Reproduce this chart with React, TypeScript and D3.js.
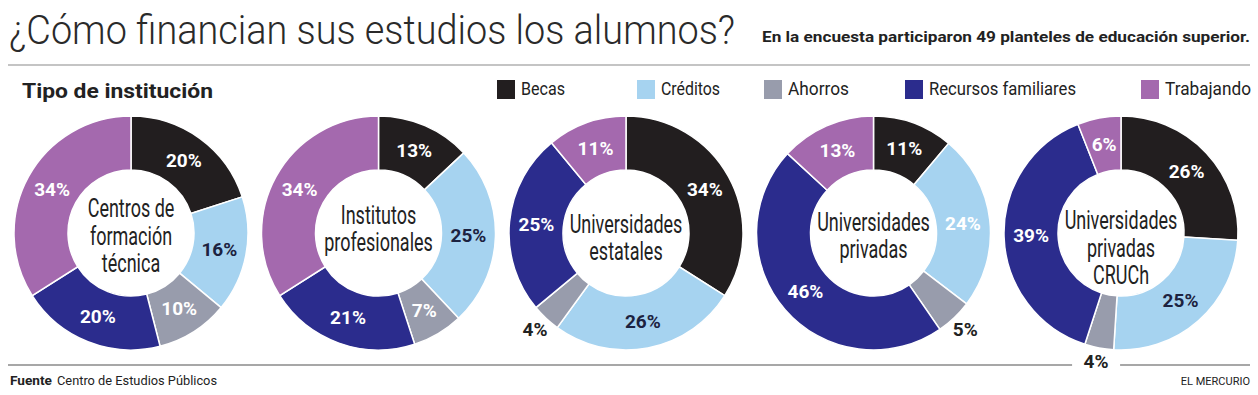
import React from "react";
import * as d3 from "d3";

// ---- data ----
const series = ["Becas", "Créditos", "Ahorros", "Recursos familiares", "Trabajando"];
const institutions = [
  ["Centros de", "formación", "técnica"],
  ["Institutos", "profesionales"],
  ["Universidades", "estatales"],
  ["Universidades", "privadas"],
  ["Universidades", "privadas", "CRUCh"],
];
const becas = [20, 13, 34, 11, 26];
const creditos = [16, 25, 26, 24, 25];
const ahorros = [10, 7, 4, 5, 4];
const recursos = [20, 21, 25, 46, 39];
const trabajando = [34, 34, 11, 13, 6];

const title = "¿Cómo financian sus estudios los alumnos?";
const subtitle = "En la encuesta participaron 49 planteles de educación superior.";
const heading = "Tipo de institución";
const sourceLabel = "Fuente";
const sourceText = "Centro de Estudios Públicos";
const brand = "EL MERCURIO";

// ---- styles / layout ----
const colors = ["#221e1f", "#a6d3f0", "#989cac", "#2b2c8d", "#a469ae"];
const W = 1258;
const H = 395;
const CX0 = 131;
const STEP = 247.5;
const CY = 233;
const R = 117;
const RI = 63;
const LABEL_R = 90;
const OUT_R = 133;
const centerDy = [3, -4, 5, 3, 15];
const legendX = [497, 637, 764, 905, 1141];
const legendW = [44, 59, 61, 147, 86];
const FONT = "Roboto, 'Noto Sans', sans-serif";

export default function App() {
  const values = institutions.map((_, i) => [becas[i], creditos[i], ahorros[i], recursos[i], trabajando[i]]);
  const pie = d3.pie<number>().sort(null).value((d) => d);
  const arc = d3.arc<d3.PieArcDatum<number>>().innerRadius(RI).outerRadius(R);
  const labelArc = d3.arc<d3.PieArcDatum<number>>().innerRadius(LABEL_R).outerRadius(LABEL_R);
  const outArc = d3.arc<d3.PieArcDatum<number>>().innerRadius(OUT_R).outerRadius(OUT_R);
  const xScale = d3.scaleLinear().domain([0, 1]).range([CX0, CX0 + STEP]);
  const RULE_Y = 361;

  let gapStart = -1;
  let gapEnd = -1;

  const donuts = values.map((vals, i) => {
    const cx = xScale(i);
    const arcs = pie(vals);
    const labels = arcs.map((a, j) => {
      const outside = a.data < 6;
      let [lx, ly] = outside ? outArc.centroid(a) : labelArc.centroid(a);
      let fill = "#fff";
      if (outside) fill = "#222";
      else if (j === 1 && i !== 3) fill = "#1c2240";
      if (outside && Math.abs(ly) > 120 && Math.abs(lx) < 40) {
        ly = RULE_Y - CY;
        gapStart = cx + lx - 24;
        gapEnd = cx + lx + 24;
      }
      return (
        <text
          key={"l" + j}
          x={lx}
          y={ly}
          textAnchor="middle"
          dominantBaseline="central"
          fontFamily={FONT}
          fontWeight={700}
          fontSize={19}
          fill={fill}
        >
          {a.data + "%"}
        </text>
      );
    });
    const lines = institutions[i];
    const lh = 27.5;
    return (
      <g key={i} transform={`translate(${cx},${CY})`}>
        {arcs.map((a, j) => (
          <path key={j} d={arc(a) || ""} fill={colors[j]} stroke="#fff" strokeWidth={1.5} />
        ))}
        {lines.map((t, k) => (
          <text
            key={"c" + k}
            transform={`translate(0,${centerDy[i] + (k - (lines.length - 1) / 2) * lh}) scale(0.72,1)`}
            textAnchor="middle"
            dominantBaseline="central"
            fontFamily={FONT}
            fontSize={25}
            fill="#222"
          >
            {t}
          </text>
        ))}
        {labels}
      </g>
    );
  });

  return (
    <div style={{ position: "absolute", left: 0, top: 0 }}>
      <svg width={W} height={H} viewBox={`0 0 ${W} ${H}`} style={{ display: "block", background: "#fff" }}>
        <text x={9} y={44} fontFamily={FONT} fontWeight={300} fontSize={40} fill="#2a2a2a" textLength={726} lengthAdjust="spacingAndGlyphs">
          {title}
        </text>
        <text x={762} y={42} fontFamily={FONT} fontWeight={700} fontSize={15} fill="#222" textLength={488} lengthAdjust="spacingAndGlyphs">
          {subtitle}
        </text>
        <line x1={8} x2={1250} y1={65} y2={65} stroke="#c4c4c4" strokeWidth={2} />
        <text x={22} y={98} fontFamily={FONT} fontWeight={700} fontSize={21} fill="#222" textLength={191} lengthAdjust="spacingAndGlyphs">
          {heading}
        </text>
        {series.map((s, j) => (
          <g key={s}>
            <rect x={legendX[j]} y={80} width={18} height={19} fill={colors[j]} />
            <text
              x={legendX[j] + 24}
              y={95}
              fontFamily={FONT}
              fontSize={18}
              fill="#222"
              textLength={legendW[j]}
              lengthAdjust="spacingAndGlyphs"
            >
              {s}
            </text>
          </g>
        ))}
        {donuts}
        {gapStart > 0 ? (
          <>
            <line x1={8} x2={gapStart} y1={RULE_Y + 4} y2={RULE_Y + 4} stroke="#8a8a8a" strokeWidth={1.5} />
            <line x1={gapEnd} x2={1250} y1={RULE_Y + 4} y2={RULE_Y + 4} stroke="#8a8a8a" strokeWidth={1.5} />
          </>
        ) : (
          <line x1={8} x2={1250} y1={RULE_Y + 4} y2={RULE_Y + 4} stroke="#8a8a8a" strokeWidth={1.5} />
        )}
        <text x={10} y={385} fontFamily={FONT} fontWeight={700} fontSize={12} fill="#222" textLength={42} lengthAdjust="spacingAndGlyphs">
          {sourceLabel}
        </text>
        <text x={57} y={385} fontFamily={FONT} fontSize={12} fill="#222" textLength={160} lengthAdjust="spacingAndGlyphs">
          {sourceText}
        </text>
        <text x={1250} y={385} textAnchor="end" fontFamily={FONT} fontSize={11} fill="#222">
          {brand}
        </text>
      </svg>
    </div>
  );
}
